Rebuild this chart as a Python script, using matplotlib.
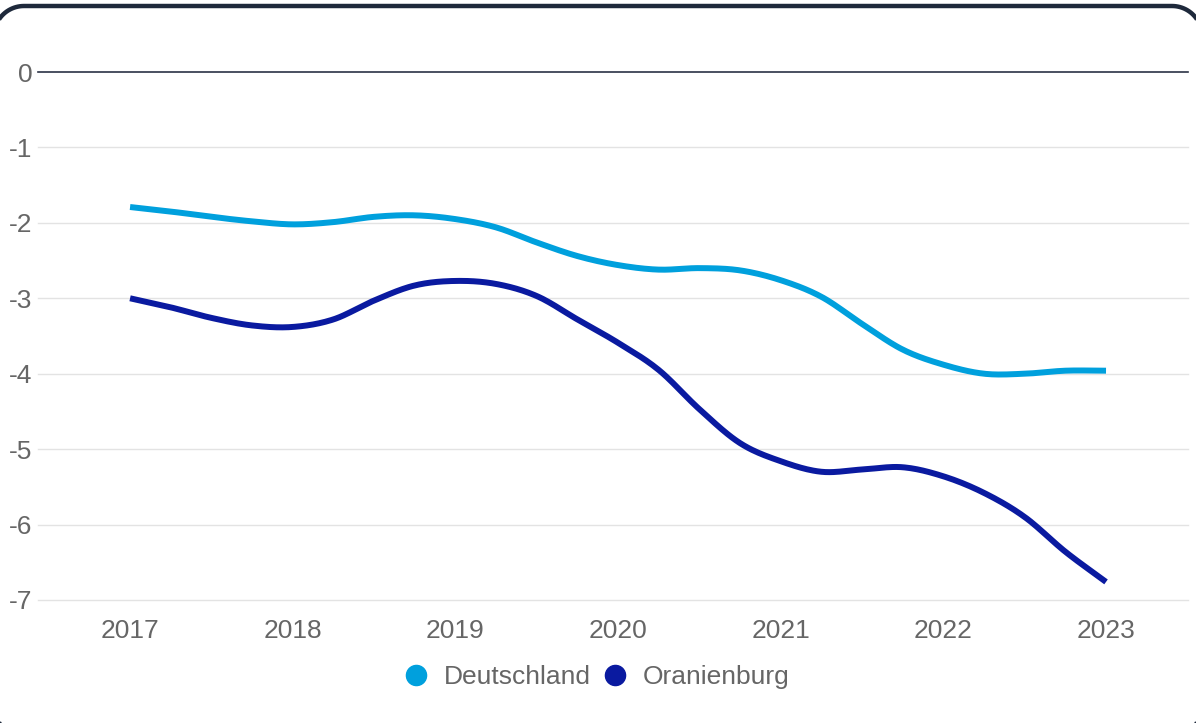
import numpy as np
import matplotlib
matplotlib.use("Agg")
import matplotlib.pyplot as plt
from matplotlib.patches import Polygon
from matplotlib.transforms import IdentityTransform
from matplotlib.lines import Line2D

# ---- data (quarterly positions) ----
years = [2017.0, 2017.25, 2017.5, 2017.75, 2018.0, 2018.25, 2018.5, 2018.75,
         2019.0, 2019.25, 2019.5, 2019.75, 2020.0, 2020.25, 2020.5, 2020.75,
         2021.0, 2021.25, 2021.5, 2021.75, 2022.0, 2022.25, 2022.5, 2022.75, 2023.0]
deutschland = [-1.79, -1.85, -1.92, -1.98, -2.02, -1.99, -1.92, -1.90,
               -1.95, -2.06, -2.26, -2.44, -2.56, -2.62, -2.60, -2.63,
               -2.76, -2.98, -3.34, -3.68, -3.88, -4.00, -4.00, -3.96, -3.96]
oranienburg = [-3.00, -3.12, -3.26, -3.36, -3.38, -3.28, -3.03, -2.83,
               -2.77, -2.81, -2.97, -3.28, -3.59, -3.95, -4.47, -4.92,
               -5.16, -5.30, -5.27, -5.24, -5.36, -5.58, -5.90, -6.36, -6.76]
tick_years = [2017, 2018, 2019, 2020, 2021, 2022, 2023]
y_ticks = [0, -1, -2, -3, -4, -5, -6, -7]
series_names = ["Deutschland", "Oranienburg"]
series_colors = ["#00a0dd", "#0a1aa0"]


def smooth(x, y, n=20):
    """Catmull-Rom spline through the given points (visual smoothing only)."""
    x = np.asarray(x, float)
    y = np.asarray(y, float)
    px = np.concatenate([[2 * x[0] - x[1]], x, [2 * x[-1] - x[-2]]])
    py = np.concatenate([[2 * y[0] - y[1]], y, [2 * y[-1] - y[-2]]])
    xs, ys = [], []
    t = np.linspace(0, 1, n, endpoint=False)
    for i in range(1, len(px) - 2):
        for arr, out in ((px, xs), (py, ys)):
            p0, p1, p2, p3 = arr[i - 1], arr[i], arr[i + 1], arr[i + 2]
            out.extend(0.5 * ((2 * p1) + (-p0 + p2) * t
                              + (2 * p0 - 5 * p1 + 4 * p2 - p3) * t ** 2
                              + (-p0 + 3 * p1 - 3 * p2 + p3) * t ** 3))
    xs.append(x[-1])
    ys.append(y[-1])
    return np.array(xs), np.array(ys)


def rounded_rect(x0, y0, x1, y1, r, n=24):
    pts = []
    corners = [(x1 - r, y1 - r, 0), (x0 + r, y1 - r, 90),
               (x0 + r, y0 + r, 180), (x1 - r, y0 + r, 270)]
    for cx, cy, a0 in corners:
        a = np.radians(np.linspace(a0, a0 + 90, n))
        pts.extend(zip(cx + r * np.cos(a), cy + r * np.sin(a)))
    return np.array(pts)


plt.rcParams['font.family'] = ['Liberation Sans', 'DejaVu Sans']

W, H = 1196, 723
fig = plt.figure(figsize=(W / 100, H / 100), dpi=100)
fig.patch.set_facecolor("white")

# rounded frame (sides lie just outside the image, only corners/top show)
frame = Polygon(rounded_rect(-6, -13, 1202, H - 6, 30), closed=True,
                transform=IdentityTransform(), facecolor="none",
                edgecolor="#1e293b", linewidth=3.2, zorder=10)
fig.patches.append(frame)

ax = fig.add_axes([38 / W, 1 - 600 / H, 1150 / W, 528 / H])
ax.set_facecolor("none")

for name, vals, c in zip(series_names, [deutschland, oranienburg], series_colors):
    sx, sy = smooth(years, vals)
    ax.plot(sx, sy, color=c, linewidth=4.3, solid_capstyle="butt", zorder=3)

ax.set_xlim(2016.434, 2023.504)
ax.set_ylim(-7, 0)
ax.set_yticks(y_ticks)
ax.set_yticklabels([str(v) for v in y_ticks])
ax.set_xticks(tick_years)
ax.set_xticklabels([str(v) for v in tick_years])

for v in y_ticks:
    if v == 0:
        ax.axhline(v, color="#2b3245", linewidth=1.2, zorder=2, clip_on=False)
    else:
        ax.axhline(v, color="#e3e3e3", linewidth=1.0, zorder=1, clip_on=False)

for s in ax.spines.values():
    s.set_visible(False)
ax.tick_params(axis="both", length=0, labelsize=19, labelcolor="#666666")
ax.tick_params(axis="y", pad=4)
ax.tick_params(axis="x", pad=14)

handles = [Line2D([], [], linestyle="none", marker="o", markersize=14.5,
                  markerfacecolor=c, markeredgecolor=c) for c in series_colors]
fig.legend(handles, series_names, loc="center",
           bbox_to_anchor=(596 / W, 1 - 677 / H), ncol=2, frameon=False,
           fontsize=19, labelcolor="#666666", handletextpad=0.55,
           columnspacing=0.41, handlelength=1.0, borderaxespad=0)

fig.savefig("out.png", dpi=100, facecolor="white")
